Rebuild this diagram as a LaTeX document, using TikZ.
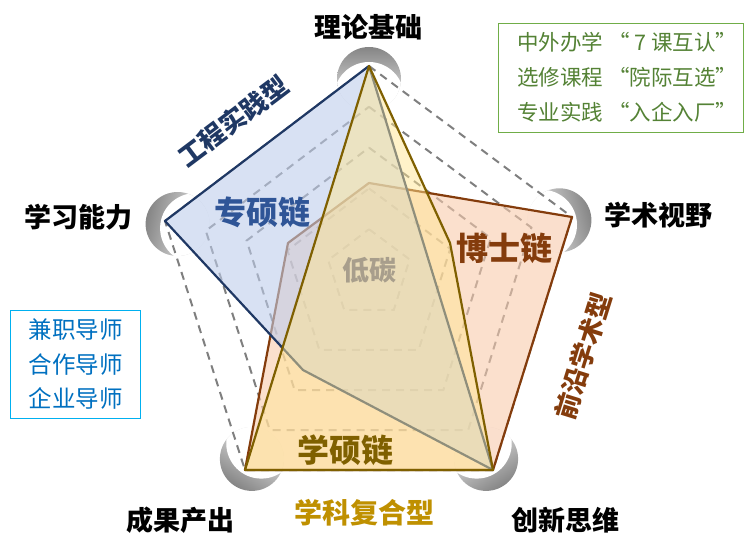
\documentclass[tikz,border=0pt]{standalone}
\usepackage{fontspec}
\newfontfamily\cjk{Noto Sans CJK SC}
\usetikzlibrary{calc}
\definecolor{gridgray}{HTML}{7F7F7F}
\definecolor{navy}{HTML}{1F3864}
\definecolor{bluetxt}{HTML}{2F5597}
\definecolor{bluefill}{HTML}{BECDEB}
\definecolor{brownln}{HTML}{843C0C}
\definecolor{brownfill}{HTML}{F8CBAC}
\definecolor{oliveln}{HTML}{7F6000}
\definecolor{yellowfill}{HTML}{FFE593}
\definecolor{goldtxt}{HTML}{BF9000}
\definecolor{greentxt}{HTML}{548235}
\definecolor{greenbox}{HTML}{70AD47}
\definecolor{skybox}{HTML}{00B0F0}
\definecolor{skytxt}{HTML}{0070C0}
\definecolor{lowc}{HTML}{A89E8C}
\definecolor{crestop}{HTML}{858585}
\definecolor{cresbot}{HTML}{F4F4F4}
\newcommand\mycrescent[5]{%
  \begin{scope}
    \clip (#1,#2) circle [radius=32pt];
    \shade[top color=crestop, bottom color=cresbot, shading angle=#5] (#1,#2) circle [radius=32pt];
    \fill[white] (#3,#4) circle [radius=35pt];
  \end{scope}}
\tikzset{
  gridline/.style={draw=gridgray, line width=2pt, dash pattern=on 8pt off 6pt},
  polyline/.style={line width=2.2pt, line join=round},
  axislabel/.style={font=\cjk\bfseries\fontsize{27}{30}\selectfont, text=black, inner sep=0pt},
  chainlabel/.style={font=\cjk\bfseries\fontsize{32}{36}\selectfont, inner sep=0pt},
  typelabel/.style={font=\cjk\bfseries\fontsize{26}{28}\selectfont, inner sep=0pt},
}
\begin{document}
\begin{tikzpicture}[x=1pt,y=-1pt]
\useasboundingbox (0,0) rectangle (744,534);
% axes vertices
\coordinate (C) at (369,270);
\coordinate (T) at (369,66);
\coordinate (R) at (572,217);
\coordinate (BR) at (493,470);
\coordinate (BL) at (245,470);
\coordinate (L) at (165,221);
% crescents
\mycrescent{369}{79}{369}{97}{0}
\mycrescent{177.6}{224}{195.1}{228.2}{76.5}
\mycrescent{559.4}{220.3}{542}{224.8}{-75.4}
\mycrescent{251.9}{458.9}{261.3}{443.6}{148.2}
\mycrescent{486.1}{458.9}{476.7}{443.6}{211.8}
% dashed grid
\foreach \s in {1,0.8,0.6,0.4,0.2}
  \draw[gridline] ($(C)!\s!(T)$) -- ($(C)!\s!(R)$) -- ($(C)!\s!(BR)$) -- ($(C)!\s!(BL)$) -- ($(C)!\s!(L)$) -- cycle;
% polygons
\coordinate (B1) at (369,183);
\coordinate (B5) at (288,243);
\coordinate (S3) at (303,370);
\coordinate (Y2) at (450,243);
\filldraw[polyline, draw=brownln, fill=brownfill, fill opacity=0.6] (B1) -- (R) -- (BR) -- (BL) -- (B5) -- cycle;
\filldraw[polyline, draw=navy, fill=bluefill, fill opacity=0.6] (T) -- (L) -- (S3) -- (BR) -- cycle;
\filldraw[polyline, draw=oliveln, fill=yellowfill, fill opacity=0.5] (T) -- (Y2) -- (BR) -- (BL) -- cycle;
\node[font=\cjk\bfseries\fontsize{27}{30}\selectfont, text=lowc, inner sep=0pt] (lowcarbon) at (369,270) {低碳};
% axis labels
\node[axislabel] (lab1) at (368,27) {理论基础};
\node[axislabel] (lab2) at (78,217) {学习能力};
\node[axislabel] (lab3) at (658,215) {学术视野};
\node[axislabel] (lab4) at (180,520) {成果产出};
\node[axislabel] (lab5) at (565,520) {创新思维};
% chain labels
\node[chainlabel, text=bluetxt] (zs) at (262,212) {专硕链};
\node[chainlabel, text=brownln] (bs) at (504,248) {博士链};
\node[chainlabel, text=oliveln] (xs) at (345,450) {学硕链};
\node[font=\cjk\bfseries\fontsize{28}{30}\selectfont, text=goldtxt, inner sep=0pt] (fh) at (364,513) {学科复合型};
\node[typelabel, text=navy, rotate=37] (gc) at (233,121) {工程实践型};
\node[typelabel, text=brownln, rotate=72.7] (qy) at (583,356) {前沿学术型};
% boxes
\node[draw=greenbox, line width=1pt, anchor=north west, minimum width=245pt, minimum height=109pt, inner sep=0pt] (gbox) at (498,23) {};
\node[anchor=west, align=left, inner sep=0pt, text=greentxt,
      font=\cjk\fontsize{21.5}{35}\selectfont] (gtext) at (517,77.5)
  {中外办学 “ 7 课互认”\\选修课程 “院际互选”\\专业实践 “入企入厂”};
\node[draw=skybox, line width=1pt, anchor=north west, minimum width=130pt, minimum height=108pt,
      align=center, text=skytxt, font=\cjk\fontsize{23.5}{34.5}\selectfont] (bbox) at (10,310)
  {兼职导师\\合作导师\\企业导师};
\end{tikzpicture}
\end{document}
